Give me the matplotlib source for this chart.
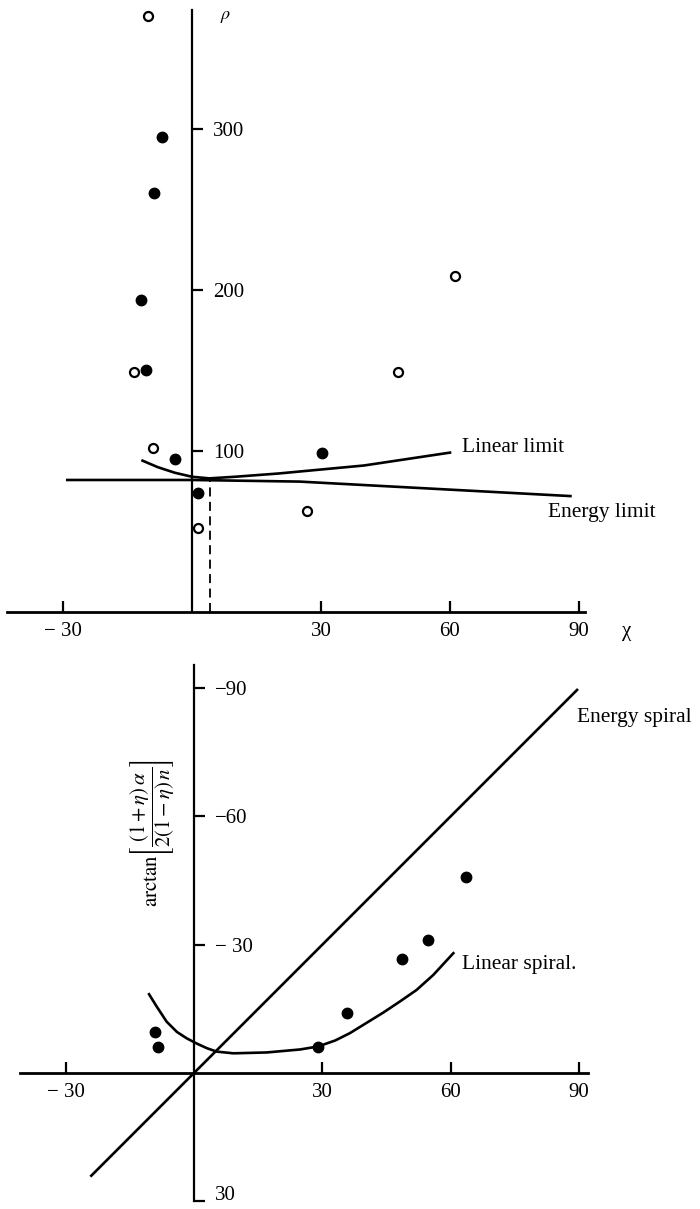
import matplotlib.pyplot as plt

plt.rcParams['font.family'] = ['Liberation Serif', 'DejaVu Serif']
plt.rcParams['mathtext.fontset'] = 'stix'

# ---- top panel: rho vs chi ----
open_x = [-10.2, -13.5, -9.1, 1.4, 26.7, 47.9, 61.2]
open_y = [370, 149, 102, 52, 63, 149, 209]
filled_x = [-7.0, -8.8, -11.9, -10.7, -4.0, 1.4, 30.2]
filled_y = [295, 260, 194, 150, 95, 74, 99]

energy_limit_x = [-29, 0, 25, 60, 88]
energy_limit_y = [82, 82, 81, 76, 72]
linear_limit_x = [-11.5, -8, -4, 0, 4, 10, 20, 30, 40, 50, 60]
linear_limit_y = [94, 90, 86.5, 84, 83, 84, 86, 88.5, 91, 95, 99]
dashed_x = 4.2
dashed_top = 82

top_xticks = [-30, 30, 60, 90]
top_xlabels = ['\u2212 30', '30', '60', '90']
top_yticks = [100, 200, 300]

# ---- bottom panel: spiral angle ----
energy_spiral_x = [-24, 89.5]
energy_spiral_y = [24, -89.5]
linear_spiral_x = [-10.5, -8.7, -6.4, -4.0, -1.7, 0.6, 3.0, 5.3, 9.2, 17.0, 24.8,
                   29.0, 33.0, 36.4, 40.3, 44.2, 48.1, 52.0, 55.9, 60.6]
linear_spiral_y = [-18.4, -15.5, -12.0, -9.6, -8.1, -6.9, -5.8, -5.0, -4.6, -4.8, -5.5,
                   -6.2, -7.6, -9.3, -11.7, -14.1, -16.7, -19.4, -22.9, -28.0]
pts_x = [-9.1, -8.4, 29, 35.7, 48.6, 54.7, 63.6]
pts_y = [-9.6, -6.1, -6.1, -14, -26.6, -31.1, -45.8]

bot_xticks = [-30, 30, 60, 90]
bot_xlabels = ['\u2212 30', '30', '60', '90']
bot_yticks = [-90, -60, -30, 30]
bot_ylabels = ['\u221290', '\u221260', '\u2212 30', '']

W, H = 700, 1209
fig = plt.figure(figsize=(W / 100, H / 100), dpi=100)

fs = 15
lw = 1.9


def setup(ax, xb, yb):
    for s in ['top', 'left']:
        ax.spines[s].set_visible(False)
    ax.spines['right'].set_position(('data', 0))
    ax.spines['bottom'].set_position(('data', 0))
    ax.spines['right'].set_bounds(*yb)
    ax.spines['bottom'].set_bounds(*xb)
    ax.spines['right'].set_linewidth(1.6)
    ax.spines['bottom'].set_linewidth(2.0)
    ax.yaxis.tick_right()
    ax.tick_params(axis='y', direction='out', length=8, width=1.6, pad=7, labelsize=fs)
    ax.tick_params(axis='x', direction='in', length=8, width=1.6, pad=7, labelsize=fs)
    ax.patch.set_alpha(0)


# top axes: pixel rows 0..640, zero at x=192 px, y=612 px
sx1, sy1 = 4.3, 1.61
ax1 = fig.add_axes([0, 1 - 640 / H, 1, 640 / H])
ax1.set_xlim(-192 / sx1, (W - 192) / sx1)
ax1.set_ylim((612 - 640) / sy1, 612 / sy1)
setup(ax1, (-43, 91.4), (0, 374))
ax1.set_xticks(top_xticks)
ax1.set_xticklabels(top_xlabels)
ax1.set_yticks(top_yticks)

ax1.plot(energy_limit_x, energy_limit_y, color='black', lw=lw)
ax1.plot(linear_limit_x, linear_limit_y, color='black', lw=lw)
ax1.plot([dashed_x, dashed_x], [0, dashed_top], color='black', lw=1.3, ls=(0, (5, 3)))
ax1.plot(filled_x, filled_y, 'o', color='black', ms=7.5)
ax1.plot(open_x, open_y, 'o', mfc='white', mec='black', mew=1.6, ms=6.5)

ax1.text(62.8, 102, 'Linear limit', fontsize=15.5, va='center', ha='left')
ax1.text(82.8, 61.5, 'Energy limit', fontsize=15.5, va='center', ha='left')
ax1.text(100, -12.4, '\u03c7', fontsize=fs, va='center', ha='left')
ax1.text(6.5, 370, r'$\rho$', fontsize=fs - 2, va='center', ha='left')

# bottom axes: pixel rows 650..1209, zero at x=194 px, y=1073 px
s2 = 4.28
ax2 = fig.add_axes([0, 0, 1, (H - 650) / H])
ax2.set_xlim(-194 / s2, (W - 194) / s2)
ax2.set_ylim((H - 1073) / s2, -(1073 - 650) / s2)
setup(ax2, (-40.7, 92), (-95.3, 30))
ax2.set_xticks(bot_xticks)
ax2.set_xticklabels(bot_xlabels)
ax2.set_yticks(bot_yticks)
ax2.set_yticklabels(bot_ylabels)
ax2.text(4.8, 28.6, '30', fontsize=fs, va='center', ha='left')

ax2.plot(energy_spiral_x, energy_spiral_y, color='black', lw=lw)
ax2.plot(linear_spiral_x, linear_spiral_y, color='black', lw=lw)
ax2.plot(pts_x, pts_y, 'o', color='black', ms=7.5)

ax2.text(89.5, -83, 'Energy spiral', fontsize=15.5, va='center', ha='left')
ax2.text(62.5, -25.3, 'Linear spiral.', fontsize=15.5, va='center', ha='left')
ax2.text(-9.6, -56, r'$\mathrm{arctan}\left[\dfrac{(1+\eta)\,\alpha}{2(1-\eta)\,n}\right]$',
         fontsize=fs, rotation=90, va='center', ha='center')

fig.savefig('out.png', dpi=100)
